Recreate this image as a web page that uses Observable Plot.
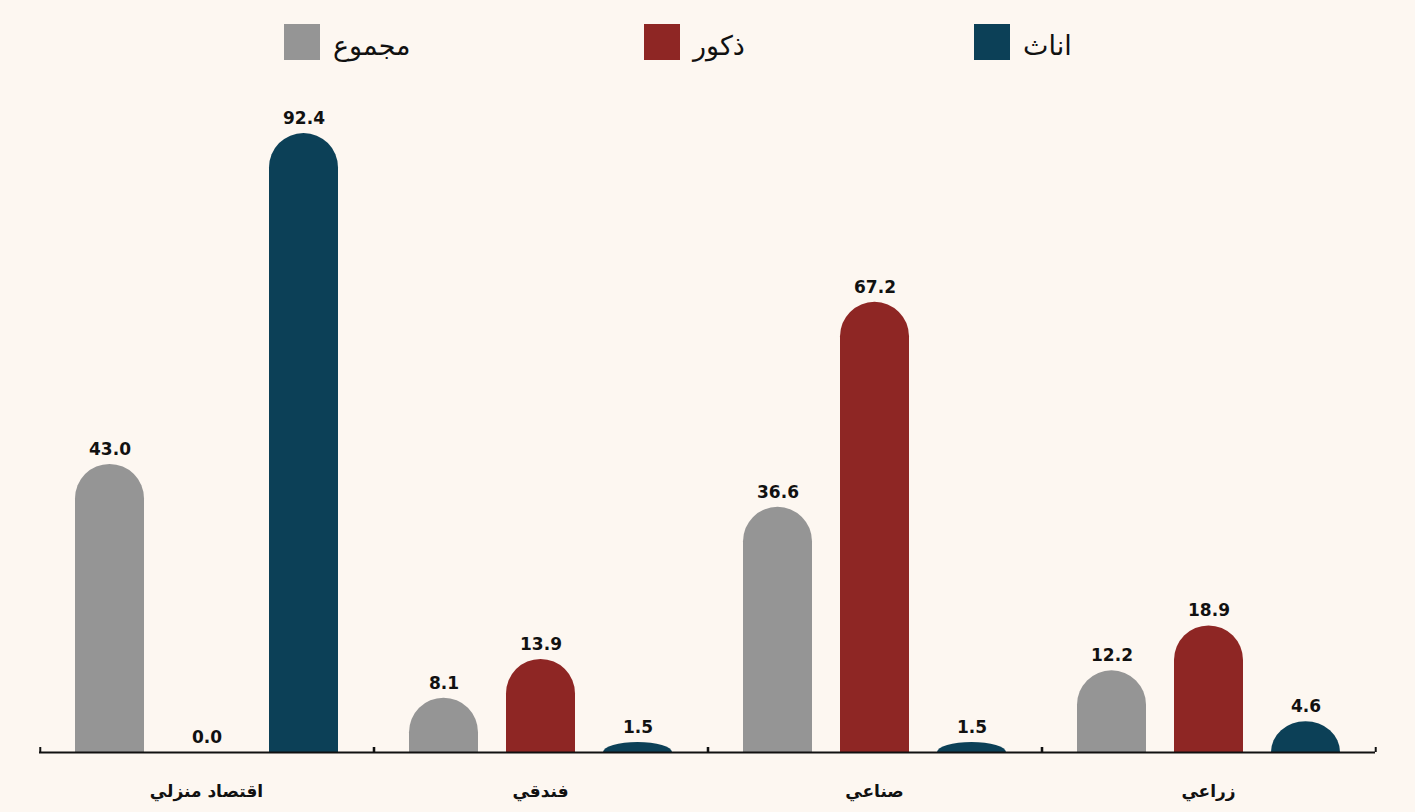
<!DOCTYPE html>
<html><head><meta charset="utf-8">
<script src="https://cdn.jsdelivr.net/npm/d3@7"></script>
<script src="https://cdn.jsdelivr.net/npm/@observablehq/plot@0.6"></script>
<style>
html,body{margin:0;padding:0;background:#fdf7f1;}
#wrap{width:1415px;height:812px;position:relative;overflow:hidden;background:#fdf7f1;}
#legend{position:relative;height:80px;}
.item{position:absolute;top:24px;display:flex;align-items:center;height:36px;}
.sw{width:36px;height:36px;flex:none;}
.lab{margin-left:13px;font-family:"DejaVu Sans";font-size:27px;color:#111;line-height:36px;position:relative;top:4px;}
#chart svg{display:block;}
</style></head><body><div id="wrap"><div id="legend"></div><div id="chart"></div></div>
<script>
const categories = ["اقتصاد منزلي", "فندقي", "صناعي", "زراعي"];
const series = ["مجموع", "ذكور", "اناث"];
const totalValues = [43.0, 8.1, 36.6, 12.2];
const maleValues = [0.0, 13.9, 67.2, 18.9];
const femaleValues = [92.4, 1.5, 1.5, 4.6];
const seriesColors = ["#959595", "#8e2624", "#0c4057"];
const legendLeft = [284, 644, 974];

const seriesValues = [totalValues, maleValues, femaleValues];
const data = categories.flatMap((c, i) => series.map((s, j) => ({category: c, series: s, value: seriesValues[j][i]})));

// legend
const legend = document.getElementById("legend");
series.forEach((s, j) => {
  const it = document.createElement("div");
  it.className = "item";
  it.style.left = legendLeft[j] + "px";
  const sw = document.createElement("div");
  sw.className = "sw";
  sw.style.background = seriesColors[j];
  const lab = document.createElement("span");
  lab.className = "lab";
  lab.textContent = s;
  it.appendChild(sw); it.appendChild(lab);
  legend.appendChild(it);
});

const pIn = 0.29, pOut = 0.36;
const facetW = (1415 - 38 - 39) / categories.length;
const step = facetW / (series.length - pIn + 2 * pOut);
const edge = step * (1 - pIn) / 2 + step * pOut;

const chart = Plot.plot({
  width: 1415, height: 732,
  marginLeft: 38, marginRight: 39, marginTop: 53, marginBottom: 60,
  style: {background: "transparent", fontFamily: "DejaVu Sans", color: "#111"},
  fx: {domain: categories, padding: 0, axis: null},
  x: {domain: series, paddingInner: pIn, paddingOuter: pOut, axis: null},
  y: {domain: [0, 92.4], axis: null},
  color: {domain: series, range: seriesColors},
  marks: [
    // mirrored below the baseline and clipped, so the top corners round like a pill
    Plot.rect(data, {fx: "category", x: "series", y1: d => -d.value, y2: "value", fill: "series", rx: 34.5, ry: 34.5, clip: true}),
    Plot.ruleY([0], {stroke: "#111", strokeWidth: 2}),
    Plot.ruleX(categories, {fx: d => d, x: () => series[0], y1: 0, y2: 0, insetTop: -5, dx: -edge, stroke: "#111", strokeWidth: 2}),
    Plot.ruleX(categories, {fx: d => d, x: () => series[series.length - 1], y1: 0, y2: 0, insetTop: -5, dx: edge, stroke: "#111", strokeWidth: 2}),
    Plot.text(data, {fx: "category", x: "series", y: "value", text: d => d.value.toFixed(1), dy: -15, fontWeight: "bold", fontSize: 17, fill: "#111"}),
    Plot.text(categories, {fx: d => d, frameAnchor: "bottom", lineAnchor: "middle", dy: 39, text: d => d, fontWeight: "bold", fontSize: 17, fill: "#111"})
  ]
});
document.getElementById("chart").appendChild(chart);
</script></body></html>
